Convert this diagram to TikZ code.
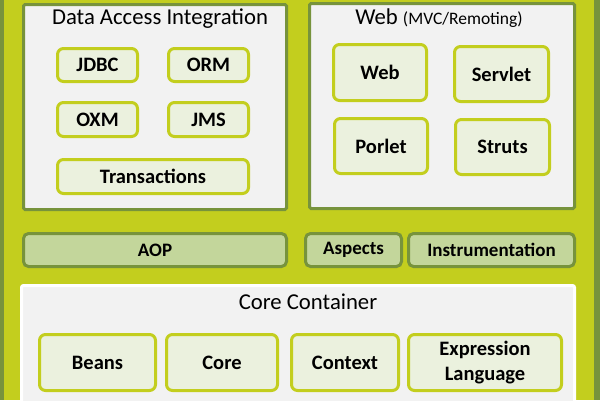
\documentclass[tikz,border=0pt]{standalone}
\usepackage{fontspec}
\setmainfont{Carlito}
\definecolor{ygreen}{RGB}{195,206,30}
\definecolor{olive}{RGB}{119,147,60}
\definecolor{panelgray}{RGB}{242,242,242}
\definecolor{infill}{RGB}{235,241,222}
\definecolor{aopfill}{RGB}{195,214,155}
\tikzset{
  panel/.style={draw=olive, fill=panelgray, line width=3pt, rounded corners=1.5pt, inner sep=0pt},
  inbox/.style={draw=ygreen, fill=infill, line width=3pt, rounded corners=6pt, inner sep=0pt,
    align=center, font=\bfseries\fontsize{20.5}{25}\selectfont},
  layerbox/.style={draw=olive, fill=aopfill, line width=3pt, rounded corners=5pt, inner sep=0pt,
    align=center, font=\bfseries\fontsize{19}{20}\selectfont},
  title/.style={inner sep=0pt, font=\fontsize{22.7}{24}\selectfont}
}
\begin{document}
\begin{tikzpicture}[x=1pt,y=-1pt]
\useasboundingbox (0,0) rectangle (600,400);
\fill[ygreen] (0,0) rectangle (600,400);
\fill[olive] (0,0) rectangle (4,400);
\fill[olive] (594,0) rectangle (600,400);
% Data Access Integration
\node[panel, minimum width=263pt, minimum height=205pt] (dai) at (155,107) {};
\node[title] (daititle) at (160,19) {Data Access Integration};
\node[inbox, minimum width=80pt, minimum height=33pt] (jdbc) at (97.5,65) {JDBC};
\node[inbox, minimum width=80pt, minimum height=33pt] (orm) at (208.5,65) {ORM};
\node[inbox, minimum width=80pt, minimum height=34pt] (oxm) at (97.5,119.5) {OXM};
\node[inbox, minimum width=80pt, minimum height=34pt] (jms) at (208.5,119.5) {JMS};
\node[inbox, minimum width=191pt, minimum height=34pt] (trans) at (153,176.5) {Transactions};
% Web
\node[panel, minimum width=265pt, minimum height=205pt] (web) at (442,106) {};
\node[title, anchor=base] (webtitle) at (439,24) {Web {\fontsize{17.5}{18}\selectfont(MVC/Remoting)}};
\node[inbox, minimum width=93pt, minimum height=56pt] (webm) at (380,72.5) {Web};
\node[inbox, minimum width=94pt, minimum height=55pt] (servlet) at (501.5,74) {Servlet};
\node[inbox, minimum width=93pt, minimum height=55pt] (porlet) at (381,146) {Porlet};
\node[inbox, minimum width=94pt, minimum height=55pt] (struts) at (502.5,147) {Struts};
% AOP row
\node[layerbox, minimum width=263pt, minimum height=33pt] (aop) at (155,250) {AOP};
\node[layerbox, minimum width=96pt, minimum height=33pt] (aspects) at (353.5,250) {Aspects};
\node[layerbox, minimum width=166pt, minimum height=33pt] (instr) at (491.5,250) {Instrumentation};
% Core Container
\draw[white, fill=panelgray, line width=3pt, rounded corners=2pt] (21.5,285.5) rectangle (574.5,412);
\node[title] (coretitle) at (308,302) {Core Container};
\node[inbox, minimum width=116pt, minimum height=56pt] (beans) at (97.5,362.5) {Beans};
\node[inbox, minimum width=111pt, minimum height=56pt] (core) at (222,362.5) {Core};
\node[inbox, minimum width=107pt, minimum height=56pt] (context) at (345,362.5) {Context};
\node[inbox, minimum width=153pt, minimum height=56pt] (expr) at (485,362.5) {Expression\\Language};
\end{tikzpicture}
\end{document}
